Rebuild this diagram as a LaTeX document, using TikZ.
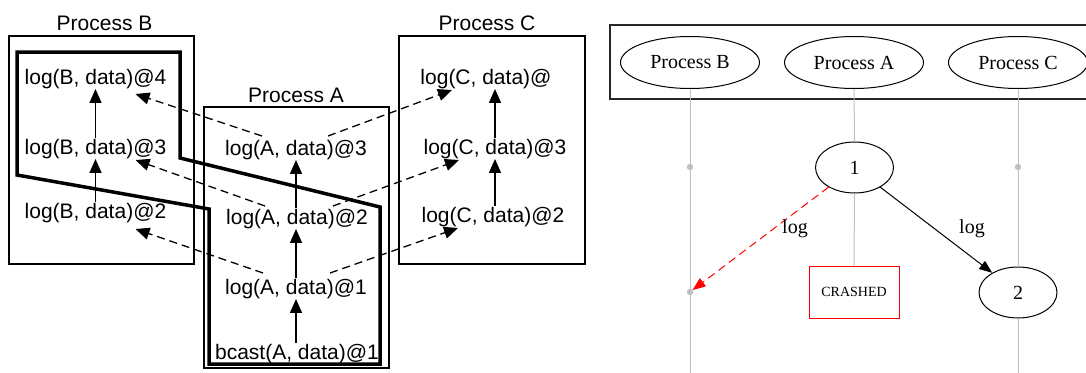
\documentclass[tikz,border=0pt]{standalone}
\usepackage{fontspec}
\setmainfont{Liberation Serif}
\newfontfamily\helv{Liberation Sans}
\usetikzlibrary{arrows.meta,calc,shapes.geometric}
\begin{document}
\begin{tikzpicture}[x=1pt,y=-1pt,
  lbl/.style={font=\helv\fontsize{21}{24}\selectfont, inner sep=0pt},
  pbox/.style={draw, line width=1.3pt, rectangle, inner sep=0pt},
  sarr/.style={line width=1.6pt, -{Triangle[length=14pt,width=12pt]}},
  darr/.style={line width=1.3pt, dash pattern=on 8pt off 5pt, -{Triangle[length=14pt,width=12pt]}},
  gvtext/.style={font=\fontsize{20}{23}\selectfont},
  procell/.style={draw, ellipse, line width=1pt, gvtext, inner sep=0pt, minimum width=139pt, minimum height=52pt},
  evell/.style={draw, ellipse, line width=1pt, gvtext, inner sep=0pt, minimum width=78pt, minimum height=51pt},
  lifeline/.style={draw=black!25, line width=1pt},
  gdot/.style={circle, fill=black!25, inner sep=0pt, minimum size=6pt},
  crashbox/.style={draw=red, line width=1pt, rectangle, inner sep=0pt, minimum width=90pt, minimum height=52pt, font=\fontsize{14}{16}\selectfont}
]
\useasboundingbox (0,0) rectangle (1086,372);
\clip (0,0) rectangle (1086,372);

% ---------- left: per-process logs ----------
\node[pbox, minimum width=185pt, minimum height=228pt] (boxB) at (101.5,150) {};
\node[pbox, minimum width=185pt, minimum height=261pt] (boxA) at (296.5,237.5) {};
\node[pbox, minimum width=186pt, minimum height=228pt] (boxC) at (492,150) {};
\node[lbl] (titB) at (104.5,23) {Process B};
\node[lbl] (titA) at (296,95) {Process A};
\node[lbl] (titC) at (487,23) {Process C};

\node[lbl] (b4) at (95.5,79) {log(B, data)@4};
\node[lbl] (b3) at (95.5,149) {log(B, data)@3};
\node[lbl] (b2) at (95.5,213) {log(B, data)@2};

\node[lbl] (a3) at (296,150) {log(A, data)@3};
\node[lbl] (a2) at (297,219) {log(A, data)@2};
\node[lbl] (a1) at (296,289) {log(A, data)@1};
\node[lbl] (a0) at (297,354) {bcast(A, data)@1};

\node[lbl] (c4) at (486,79) {log(C, data)@};
\node[lbl] (c3) at (495,149) {log(C, data)@3};
\node[lbl] (c2) at (493,217) {log(C, data)@2};

% local order
\draw[sarr, shorten <=1pt] (b2.north) -- (b3.south);
\draw[sarr, shorten <=1pt] (b3.north) -- (b4.south);
\draw[sarr, shorten <=1pt] (a0.north -| a1.south) -- (a1.south);
\draw[sarr, shorten <=1pt] (a1.north) -- (a1.north |- a2.south);
\draw[sarr, shorten <=1pt] (a2.north -| a1.north) -- (a1.north |- a3.south);
\draw[sarr, shorten <=1pt] (c3.south |- c2.north) -- (c3.south);
\draw[sarr, shorten <=1pt] (c3.north) -- (c3.north |- c4.south);

% log messages
\draw[darr] ($(a3)+(-34,-14)$) -- ($(b4)+(40,15)$);
\draw[darr] ($(a3)+(32,-14)$) -- ($(c4)+(-34,11)$);
\draw[darr] ($(a2)+(-32,-13)$) -- ($(b3)+(40,11)$);
\draw[darr] ($(a2)+(36,-13)$) -- ($(c3)+(-36,11)$);
\draw[darr] ($(a1)+(-33,-16)$) -- ($(b2)+(40,16)$);
\draw[darr] ($(a1)+(34,-16)$) -- ($(c2)+(-35,11)$);

% consistent cut
\draw[line width=3.5pt, line join=miter]
  (17,52) -- (180,52) -- (180,158) -- (380,207) -- (380,364)
  -- (209,364) -- (209,209) -- (17,175) -- cycle;

% ---------- right: space-time view ----------
\node[draw=black!85, line width=1.2pt, rectangle, inner sep=0pt,
      minimum width=480pt, minimum height=74pt] (frame) at (850,62) {};
\node[procell] (pb) at (690,62.5) {Process B};
\node[procell] (pa) at (854,62.5) {Process A};
\node[procell] (pc) at (1018,62.5) {Process C};

\node[evell] (e1) at (854.5,167.5) {1};
\node[evell] (e2) at (1018,292.5) {2};
\node[crashbox] (crash) at (854,292) {CRASHED};

\node[gdot] (db1) at (690,167) {};
\node[gdot] (db2) at (690,292) {};
\node[gdot] (dc1) at (1018,167) {};
\coordinate (bend) at (690,380);
\coordinate (cend) at (1018,380);

\path[lifeline] (pb.south) -- (db1) -- (db2) -- (bend);
\path[lifeline] (pa.south) -- (e1.north);
\path[lifeline] (e1.south) -- (crash.north);
\path[lifeline] (pc.south) -- (dc1) -- (e2.north);
\path[lifeline] (e2.south) -- (cend);
\node[gdot] at (db1) {};
\node[gdot] at (db2) {};
\node[gdot] at (dc1) {};

\draw[red, line width=1pt, dash pattern=on 8pt off 5pt,
      -{Triangle[length=13pt,width=10pt]}] (e1) -- (db2);
\draw[line width=1pt, -{Triangle[length=13pt,width=10pt]}] (e1) -- (e2);
\node[gvtext, inner sep=0pt] (l1) at (795,229) {log};
\node[gvtext, inner sep=0pt] (l2) at (972,229) {log};
\end{tikzpicture}
\end{document}
